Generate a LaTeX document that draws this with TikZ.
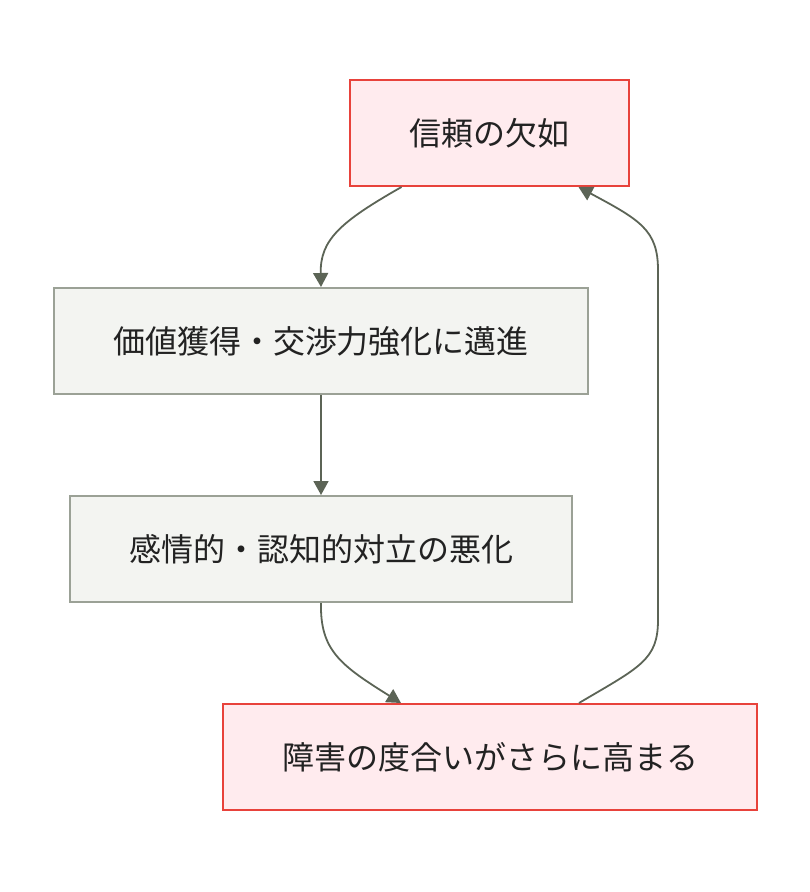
\documentclass[tikz,border=0pt]{standalone}
\usepackage{fontspec}
\newfontfamily\cjk{Noto Sans CJK JP}
\usetikzlibrary{arrows.meta}
\definecolor{redline}{HTML}{E8423B}
\definecolor{redfill}{HTML}{FFEBEE}
\definecolor{grayline}{HTML}{9BA196}
\definecolor{grayfill}{HTML}{F3F4F1}
\definecolor{edgecol}{HTML}{5C6456}
\definecolor{txt}{HTML}{222222}
\tikzset{
  box/.style={draw, line width=2pt, inner sep=0pt, text=txt,
    font=\cjk\fontsize{32}{36}\selectfont, anchor=north west},
  redbox/.style={box, draw=redline, fill=redfill},
  graybox/.style={box, draw=grayline, fill=grayfill},
  edge/.style={draw=edgecol, line width=1.8pt,
    -{Triangle[length=14pt,width=15pt]}}
}
\begin{document}
\begin{tikzpicture}[x=1pt,y=-1pt]
\useasboundingbox (0,0) rectangle (810,892);
\node[redbox, minimum width=279pt, minimum height=106pt] (b1) at (349,79) {信頼の欠如};
\node[graybox, minimum width=534pt, minimum height=106pt] (b2) at (53,287) {価値獲得・交渉力強化に邁進};
\node[graybox, minimum width=502pt, minimum height=106pt] (b3) at (69,495) {感情的・認知的対立の悪化};
\node[redbox, minimum width=534pt, minimum height=106pt] (b4) at (222,703) {障害の度合いがさらに高まる};
\coordinate (s1) at ([xshift=-88pt]b1.south);
\coordinate (e1) at (b2.north);
\coordinate (s3) at (b3.south);
\coordinate (e3) at ([xshift=-89pt]b4.north);
\coordinate (s4) at ([xshift=89pt]b4.north);
\coordinate (e4) at ([xshift=89pt]b1.south);
\draw[edge] (s1) .. controls (340,222) and (320,240) .. (e1);
\draw[edge] (b2.south) -- (b3.north);
\draw[edge] (s3) .. controls (320,650) and (340,665) .. (e3);
\draw[edge] (s4) .. controls (640,667) and (658,660) .. (658,620)
  -- (658,270) .. controls (658,230) and (640,220) .. (e4);
\end{tikzpicture}
\end{document}
